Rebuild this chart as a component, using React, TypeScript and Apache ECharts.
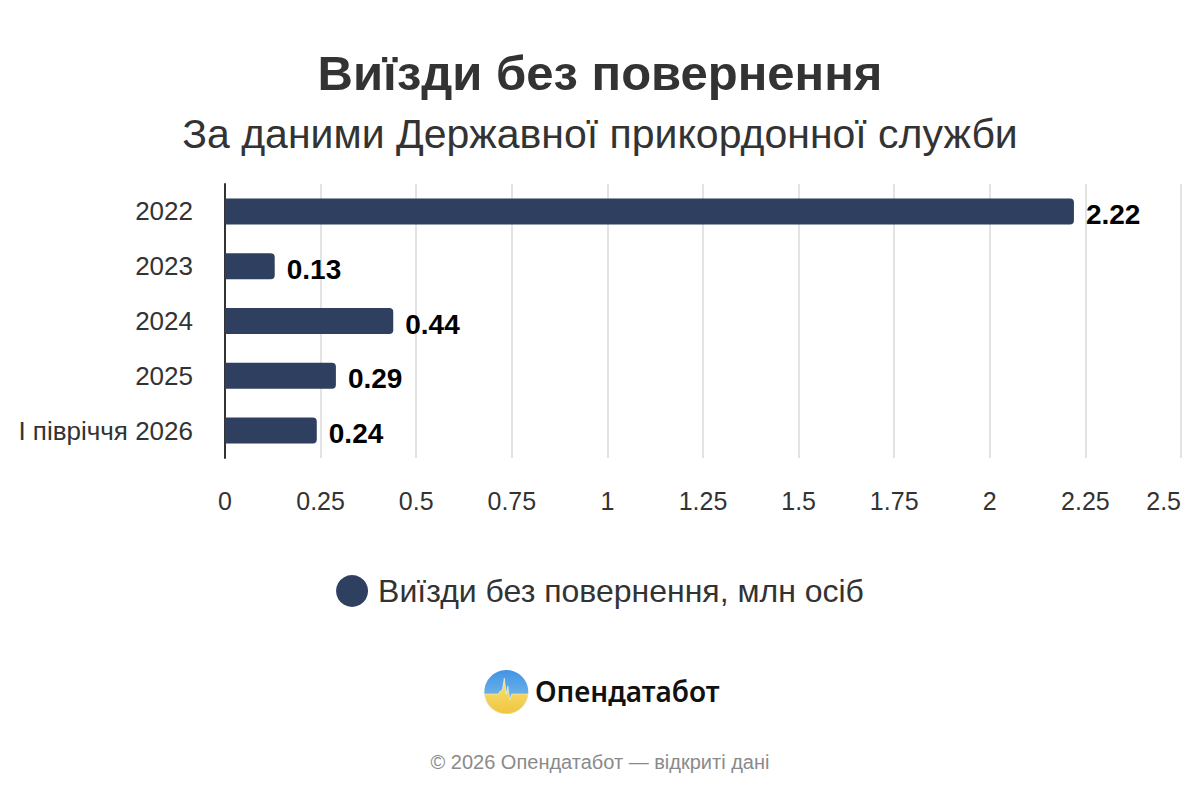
import React, { useEffect, useRef } from "react";
import * as echarts from "echarts";

const categories = ["2022", "2023", "2024", "2025", "I півріччя 2026"];
const values = [2.22, 0.13, 0.44, 0.29, 0.24];
const xTicks = { min: 0, max: 2.5, interval: 0.25 };
const seriesName = "Виїзди без повернення, млн осіб";
const titleText = "Виїзди без повернення";
const subtitleText = "За даними Державної прикордонної служби";
const brandText = "Опендатабот";
const footerText = "© 2026 Опендатабот — відкриті дані";

const FONT = "'Liberation Sans', Arial, Helvetica, sans-serif";
const BAR = "#2f3f5f";

let registered = false;
function registerLogo() {
  if (registered) return;
  registered = true;
  const d =
    "M -21.9 2 L -8 2 L -6 -1 L -4 -2 L -2 -14 L 0 2 L 1.5 -6 L 3.5 8 L 5.5 2 L 21.9 2 A 22 22 0 0 1 -21.9 2 Z";
  echarts.graphic.registerShape("logoYellow", echarts.graphic.extendPath(d, {}));
}

export default function App() {
  const ref = useRef<HTMLDivElement>(null);
  useEffect(() => {
    document.body.style.margin = "0";
    registerLogo();
    const chart = echarts.init(ref.current!, null, { renderer: "svg" });
    chart.setOption({
      animation: false,
      backgroundColor: "#ffffff",
      title: [
        {
          text: titleText,
          left: "center",
          top: 43,
          textStyle: { fontFamily: FONT, fontSize: 49, fontWeight: "bold", color: "#333333" },
        },
        {
          text: subtitleText,
          left: "center",
          top: 108,
          textStyle: { fontFamily: FONT, fontSize: 41, fontWeight: "normal", color: "#333333" },
        },
      ],
      legend: {
        top: 570,
        left: "center",
        icon: "circle",
        itemWidth: 32,
        itemHeight: 32,
        itemGap: 10,
        textStyle: { fontFamily: FONT, fontSize: 32, color: "#333333", padding: [0, 0, 0, 5] },
        data: [seriesName],
      },
      grid: { left: 225, right: 19, top: 184, height: 274, containLabel: false },
      xAxis: {
        type: "value",
        min: xTicks.min,
        max: xTicks.max,
        interval: xTicks.interval,
        axisLine: { show: false },
        axisTick: { show: false },
        axisLabel: {
          fontFamily: FONT,
          fontSize: 25,
          color: "#333333",
          margin: 30,
          alignMaxLabel: "right",
          formatter: (v: number) => String(v),
        },
        splitLine: { show: true, lineStyle: { color: "#e3e3e3", width: 2 } },
      },
      yAxis: {
        type: "category",
        data: categories,
        inverse: true,
        axisLine: { show: true, lineStyle: { color: "#333333", width: 2 } },
        axisTick: { show: false },
        axisLabel: { fontFamily: FONT, fontSize: 26, color: "#333333", margin: 32 },
        splitLine: { show: false },
      },
      series: [
        {
          name: seriesName,
          type: "bar",
          data: values,
          barWidth: 26,
          itemStyle: { color: BAR, borderRadius: [0, 4, 4, 0] },
          label: {
            show: true,
            position: "right",
            distance: 12,
            fontFamily: FONT,
            fontSize: 28,
            fontWeight: "bold",
            color: "#000000",
            offset: [0, 3],
          },
        },
      ],
      graphic: [
        {
          type: "group",
          left: 484,
          top: 670,
          children: [
            {
              type: "circle",
              shape: { cx: 22, cy: 22, r: 22 },
              style: {
                fill: new echarts.graphic.LinearGradient(0, 0, 0, 1, [
                  { offset: 0, color: "#3f94e6" },
                  { offset: 0.55, color: "#6bb0e8" },
                  { offset: 1, color: "#8cc0ea" },
                ]),
              },
            },
            {
              type: "logoYellow",
              x: 22,
              y: 22,
              style: {
                fill: new echarts.graphic.LinearGradient(0, 0, 0, 1, [
                  { offset: 0, color: "#f7e27a" },
                  { offset: 1, color: "#f0c63d" },
                ]),
                stroke: "rgba(255,255,255,0.6)",
                lineWidth: 0.8,
              },
            },
          ],
        },
        {
          type: "text",
          left: 535,
          top: 677,
          style: {
            text: brandText,
            fontFamily: "'Noto Sans', 'Open Sans', sans-serif",
            fontSize: 28,
            fontWeight: 600,
            fill: "#111111",
          },
        },
        {
          type: "text",
          left: "center",
          top: 752,
          style: {
            text: footerText,
            fontFamily: FONT,
            fontSize: 20,
            fill: "#8a8a8a",
          },
        },
      ],
    });
    return () => chart.dispose();
  }, []);
  return <div ref={ref} style={{ width: 1200, height: 800 }} />;
}
